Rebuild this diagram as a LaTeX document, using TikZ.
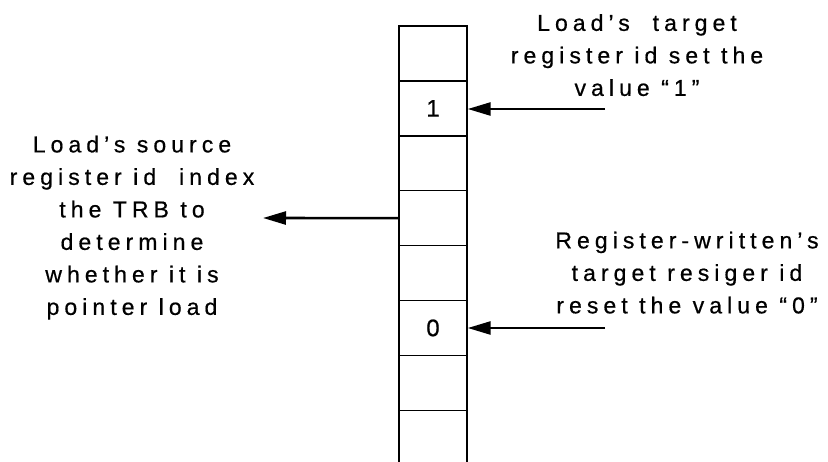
\documentclass[tikz,border=0pt]{standalone}
\usepackage{fontspec}
\setmainfont{Liberation Sans}[FakeBold=0.6]
\newfontfamily\labelfont{Liberation Sans}[LetterSpace=22,FakeBold=0.6]
\usetikzlibrary{arrows.meta}
\begin{document}
\begin{tikzpicture}[x=1pt,y=-1pt,
  cell/.style={draw, line width=1.4pt, minimum width=68pt, minimum height=54.9pt,
    inner sep=0pt, font=\fontsize{24}{28}\selectfont},
  pointer/.style={line width=2.6pt, -{Triangle[length=23pt,width=13pt]}},
  note/.style={align=center, inner sep=0pt, anchor=north,
    font=\labelfont\fontsize{23}{32.5}\selectfont}]
  \useasboundingbox (0,0) rectangle (828,461);
  \clip (0,0) rectangle (828,461);
  % the TRB column, one cell per register id
  \foreach \i/\v in {1/,2/1,3/,4/,5/,6/0,7/,8/,9/}
    \node[cell] (c\i) at (433,{26+27.45+(\i-1)*54.9}) {\v};
  % explanatory notes
  \node[note] (settxt) at (637,14.0) {Load’s\ \ target\\register id set the\\value “1”};
  \node[note] (idxtxt) at (132,135.5) {Load’s source\\register id\ \ index\\the TRB to\\determine\\whether it is\\pointer load};
  \node[note] (rsttxt) at (687,231.5) {Register-written’s\\target resiger id\\reset the value “0”};
  % arrows
  \coordinate (setsrc) at (605,109);
  \coordinate (rstsrc) at (605,328);
  \coordinate (idxend) at (263,218);
  \draw[pointer] (setsrc) -- (c2.east |- setsrc);
  \draw[pointer] (rstsrc) -- (c6.east |- rstsrc);
  \draw[pointer] (c4.west) -- (idxend);
\end{tikzpicture}
\end{document}
